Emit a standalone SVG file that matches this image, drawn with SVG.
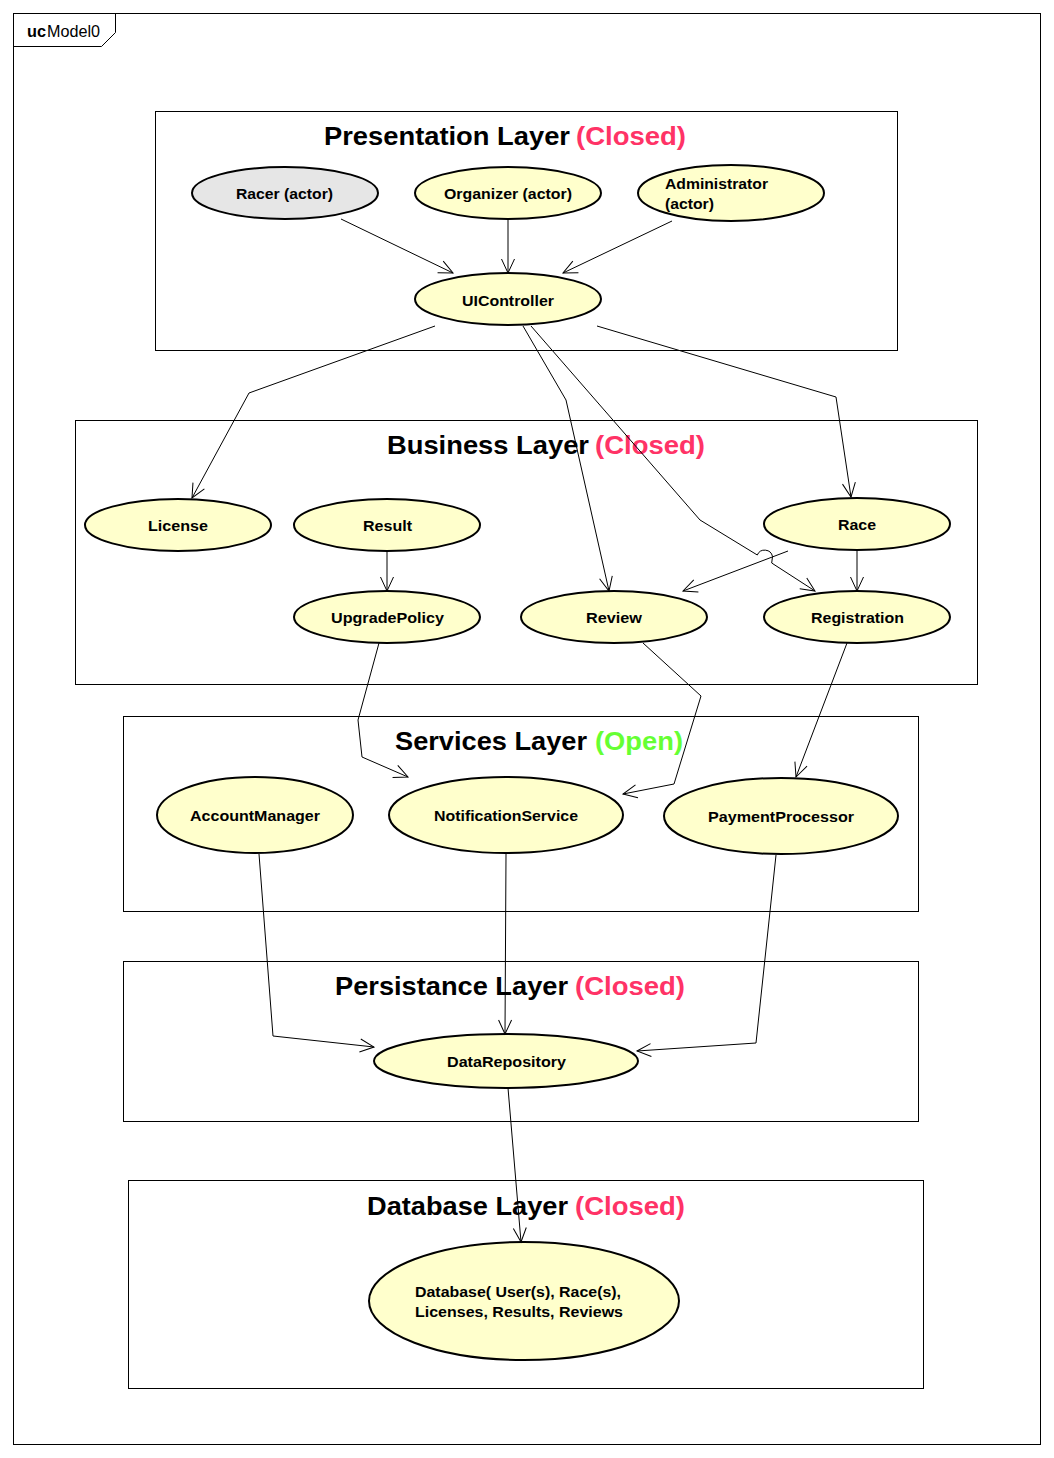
<svg xmlns="http://www.w3.org/2000/svg" width="1054" height="1458" viewBox="0 0 1054 1458">
<style>
.frame{fill:none;stroke:#000;stroke-width:1}
.layer{fill:#fff;stroke:#000;stroke-width:1}
.uc{fill:#ffffcc;stroke:#000;stroke-width:2}
.actor{fill:#e6e6e6;stroke:#000;stroke-width:2}
.lbl{font-family:"Liberation Sans",Arial,sans-serif;font-size:15.5px;font-weight:bold;fill:#000}
.title{font-family:"Liberation Sans",Arial,sans-serif;font-size:26px;font-weight:bold;fill:#000}
.closed{fill:#ff3366}
.open{fill:#66ff33}
.conn path{fill:none;stroke:#000;stroke-width:1}
</style>
<defs>
<marker id="arr" markerUnits="userSpaceOnUse" markerWidth="20" markerHeight="20" viewBox="-16 -10 20 20" refX="0" refY="0" orient="auto">
<path d="M -14 -6.5 L 0 0 L -14 6.5" fill="none" stroke="#000" stroke-width="1"/>
</marker>
</defs>
<rect x="0" y="0" width="1054" height="1458" fill="#fff"/>
<g id="frame">
<rect class="frame" x="13.5" y="13.5" width="1027" height="1431"/>
<path class="frame" d="M13.5 46.5 L101.5 46.5 L115.5 32.5 L115.5 13.5"/>
<text x="27" y="37" font-family="'Liberation Sans',Arial,sans-serif" font-size="16" font-weight="bold" textLength="19" lengthAdjust="spacingAndGlyphs">uc</text>
<text x="47" y="37" font-family="'Liberation Sans',Arial,sans-serif" font-size="16" textLength="53" lengthAdjust="spacingAndGlyphs">Model0</text>
</g>
<g id="layer-presentation">
<rect class="layer" x="155.5" y="111.5" width="742" height="239"/>
<text class="title" x="324" y="145" textLength="246" lengthAdjust="spacingAndGlyphs">Presentation Layer</text>
<text class="title closed" x="576" y="145" textLength="110" lengthAdjust="spacingAndGlyphs">(Closed)</text>
</g>
<g id="layer-business">
<rect class="layer" x="75.5" y="420.5" width="902" height="264"/>
<text class="title" x="387" y="454" textLength="202" lengthAdjust="spacingAndGlyphs">Business Layer</text>
<text class="title closed" x="595" y="454" textLength="110" lengthAdjust="spacingAndGlyphs">(Closed)</text>
</g>
<g id="layer-services">
<rect class="layer" x="123.5" y="716.5" width="795" height="195"/>
<text class="title" x="395" y="750" textLength="192" lengthAdjust="spacingAndGlyphs">Services Layer</text>
<text class="title open" x="595" y="750" textLength="88" lengthAdjust="spacingAndGlyphs">(Open)</text>
</g>
<g id="layer-persistance">
<rect class="layer" x="123.5" y="961.5" width="795" height="160"/>
<text class="title" x="335" y="995" textLength="233" lengthAdjust="spacingAndGlyphs">Persistance Layer</text>
<text class="title closed" x="575" y="995" textLength="110" lengthAdjust="spacingAndGlyphs">(Closed)</text>
</g>
<g id="layer-database">
<rect class="layer" x="128.5" y="1180.5" width="795" height="208"/>
<text class="title" x="367" y="1215" textLength="201" lengthAdjust="spacingAndGlyphs">Database Layer</text>
<text class="title closed" x="575" y="1215" textLength="110" lengthAdjust="spacingAndGlyphs">(Closed)</text>
</g>
<g id="racer"><ellipse class="actor" cx="285" cy="193" rx="93" ry="26"/><text class="lbl" x="236" y="199" textLength="97" lengthAdjust="spacingAndGlyphs">Racer (actor)</text></g>
<g id="organizer"><ellipse class="uc" cx="508" cy="193" rx="93" ry="26"/><text class="lbl" x="444" y="199" textLength="128" lengthAdjust="spacingAndGlyphs">Organizer (actor)</text></g>
<g id="administrator"><ellipse class="uc" cx="731" cy="193" rx="93" ry="28"/><text class="lbl" x="665" y="189" textLength="103" lengthAdjust="spacingAndGlyphs">Administrator</text><text class="lbl" x="665" y="209" textLength="49" lengthAdjust="spacingAndGlyphs">(actor)</text></g>
<g id="uicontroller"><ellipse class="uc" cx="508" cy="299" rx="93" ry="26"/><text class="lbl" x="462" y="306" textLength="92" lengthAdjust="spacingAndGlyphs">UIController</text></g>
<g id="license"><ellipse class="uc" cx="178" cy="525" rx="93" ry="26"/><text class="lbl" x="148" y="531" textLength="60" lengthAdjust="spacingAndGlyphs">License</text></g>
<g id="result"><ellipse class="uc" cx="387" cy="525" rx="93" ry="26"/><text class="lbl" x="363" y="531" textLength="49" lengthAdjust="spacingAndGlyphs">Result</text></g>
<g id="upgradepolicy"><ellipse class="uc" cx="387" cy="617" rx="93" ry="26"/><text class="lbl" x="331" y="623" textLength="113" lengthAdjust="spacingAndGlyphs">UpgradePolicy</text></g>
<g id="review"><ellipse class="uc" cx="614" cy="617" rx="93" ry="26"/><text class="lbl" x="586" y="623" textLength="56" lengthAdjust="spacingAndGlyphs">Review</text></g>
<g id="race"><ellipse class="uc" cx="857" cy="524" rx="93" ry="26"/><text class="lbl" x="838" y="530" textLength="38" lengthAdjust="spacingAndGlyphs">Race</text></g>
<g id="registration"><ellipse class="uc" cx="857" cy="617" rx="93" ry="26"/><text class="lbl" x="811" y="623" textLength="93" lengthAdjust="spacingAndGlyphs">Registration</text></g>
<g id="accountmanager"><ellipse class="uc" cx="255" cy="815" rx="98" ry="38"/><text class="lbl" x="190" y="821" textLength="130" lengthAdjust="spacingAndGlyphs">AccountManager</text></g>
<g id="notificationservice"><ellipse class="uc" cx="506" cy="815" rx="117" ry="38"/><text class="lbl" x="434" y="821" textLength="144" lengthAdjust="spacingAndGlyphs">NotificationService</text></g>
<g id="paymentprocessor"><ellipse class="uc" cx="781" cy="816" rx="117" ry="38"/><text class="lbl" x="708" y="822" textLength="146" lengthAdjust="spacingAndGlyphs">PaymentProcessor</text></g>
<g id="datarepository"><ellipse class="uc" cx="506" cy="1061" rx="132" ry="27"/><text class="lbl" x="447" y="1067" textLength="119" lengthAdjust="spacingAndGlyphs">DataRepository</text></g>
<g id="database"><ellipse class="uc" cx="524" cy="1301" rx="155" ry="59"/><text class="lbl" x="415" y="1297" textLength="206" lengthAdjust="spacingAndGlyphs">Database( User(s), Race(s),</text><text class="lbl" x="415" y="1317" textLength="208" lengthAdjust="spacingAndGlyphs">Licenses, Results, Reviews</text></g>
<g id="connectors" class="conn">
<path marker-end="url(#arr)" d="M341 219 L453 273"/>
<path marker-end="url(#arr)" d="M508 219 L508 273"/>
<path marker-end="url(#arr)" d="M672 221 L563 273"/>
<path marker-end="url(#arr)" d="M435 326 L249 393 L192 498"/>
<path marker-end="url(#arr)" d="M523 326 L566 400 L609 591"/>
<path marker-end="url(#arr)" d="M531 326 L700 520 L757.3 555 A 8 8 0 0 1 772.5 556.5 L771.7 563 L815 591"/>
<path marker-end="url(#arr)" d="M597 326 L836 397 L851 497"/>
<path marker-end="url(#arr)" d="M387 551 L387 591"/>
<path marker-end="url(#arr)" d="M857 550 L857 591"/>
<path marker-end="url(#arr)" d="M788 551 L683 591"/>
<path marker-end="url(#arr)" d="M379 643 L358 720 L362 757 L408 777"/>
<path marker-end="url(#arr)" d="M643 643 L701 696 L674 784 L623 794"/>
<path marker-end="url(#arr)" d="M847 643 L796 777"/>
<path marker-end="url(#arr)" d="M259 854 L273 1036 L374 1047"/>
<path marker-end="url(#arr)" d="M506 854 L505 1034"/>
<path marker-end="url(#arr)" d="M776 855 L756 1043 L637 1051"/>
<path marker-end="url(#arr)" d="M508 1088 L521 1242"/>
</g>
</svg>
